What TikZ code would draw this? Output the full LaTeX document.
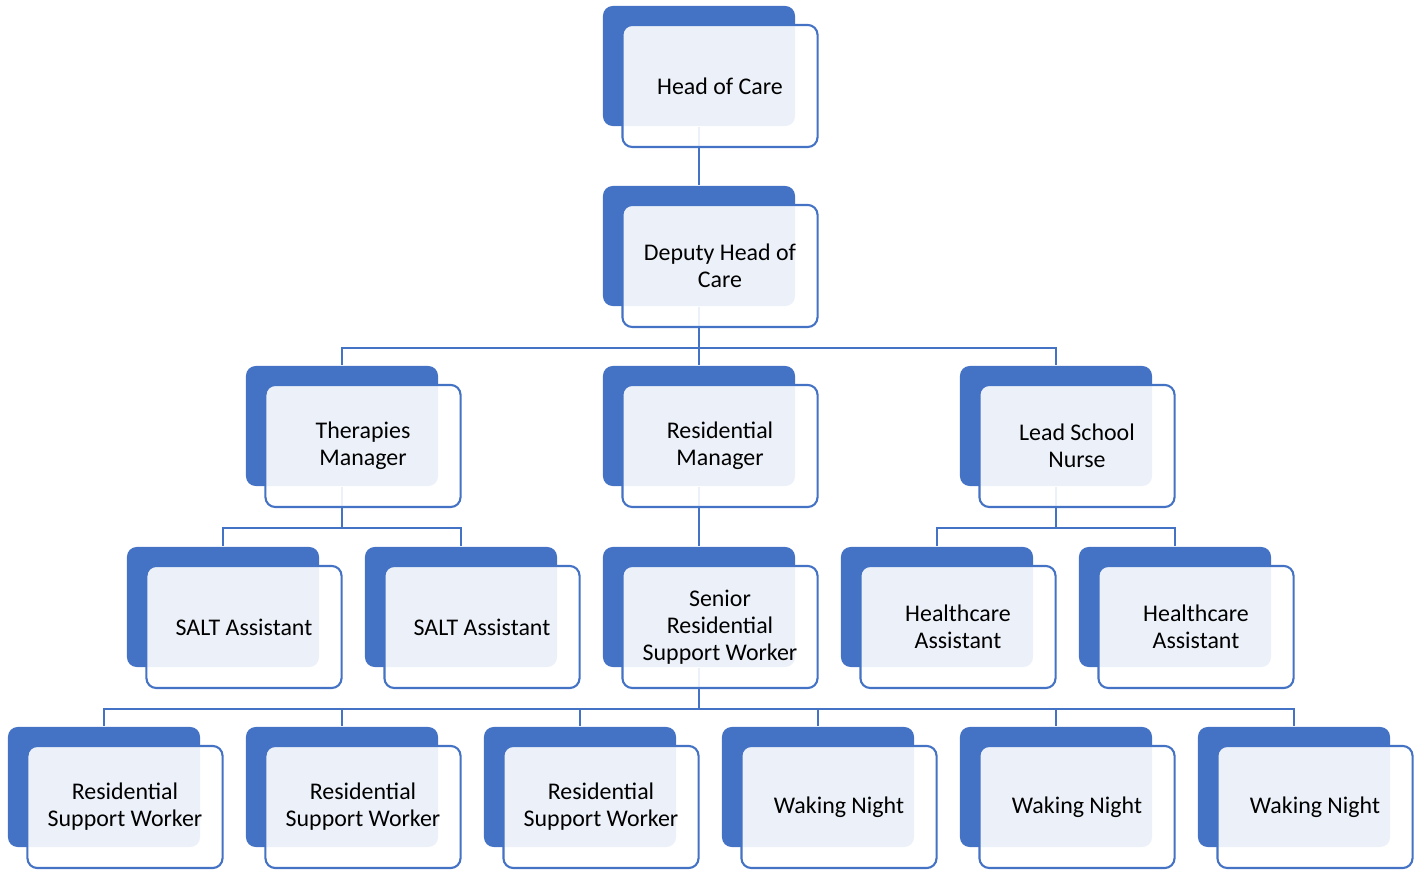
\documentclass[tikz,border=0pt]{standalone}
\usepackage{fontspec}
\setmainfont{Carlito}
\definecolor{cardblue}{HTML}{4472C4}

\begin{document}
\begin{tikzpicture}
      [%%%%%%%%%%%%%%%%%%%%%%%%%%%%%%
      x=0.01cm, y=-0.01cm,
      back/.style={rectangle,rounded corners=2.8pt,fill=cardblue,inner sep=0pt,
                   minimum width=1.92cm, minimum height=1.20cm},
      front/.style={rectangle,rounded corners=2.8pt,draw=cardblue,line width=0.6pt,
                    fill=white,fill opacity=0.9,text opacity=1,inner sep=0pt,
                    minimum width=1.95cm, minimum height=1.22cm,align=center,
                    font=\fontsize{6.8}{7.7}\selectfont},
      link/.style={draw=cardblue,line width=0.7pt},
      ]%%%%%%%%%%%%%%%%%%%%%%%%%%%%%%
      \useasboundingbox (0,0) rectangle (1420,870);

      % back cards
      \node[back] (head) at (699,66){};
      \node[back] (deputy) at (699,246){};
      \node[back] (ther) at (342,426){};
      \node[back] (resm) at (699,426){};
      \node[back] (nurse) at (1056,426){};
      \node[back] (salta) at (223,607){};
      \node[back] (saltb) at (461,607){};
      \node[back] (senior) at (699,607){};
      \node[back] (hca) at (937,607){};
      \node[back] (hcb) at (1175,607){};
      \node[back] (rswa) at (104,787){};
      \node[back] (rswb) at (342,787){};
      \node[back] (rswc) at (580,787){};
      \node[back] (wna) at (818,787){};
      \node[back] (wnb) at (1056,787){};
      \node[back] (wnc) at (1294,787){};

      % links
      \draw[link] (head.south) -- (deputy.north);
      \draw[link] (deputy.south) -- ++(0,41) -| (ther.north);
      \draw[link] (deputy.south) -- (resm.north);
      \draw[link] (deputy.south) -- ++(0,41) -| (nurse.north);
      \draw[link] (ther.south) -- ++(0,41) -| (salta.north);
      \draw[link] (ther.south) -- ++(0,41) -| (saltb.north);
      \draw[link] (resm.south) -- (senior.north);
      \draw[link] (nurse.south) -- ++(0,41) -| (hca.north);
      \draw[link] (nurse.south) -- ++(0,41) -| (hcb.north);
      \draw[link] (senior.south) -- ++(0,41) -| (rswa.north);
      \draw[link] (senior.south) -- ++(0,41) -| (rswb.north);
      \draw[link] (senior.south) -- ++(0,41) -| (rswc.north);
      \draw[link] (senior.south) -- ++(0,41) -| (wna.north);
      \draw[link] (senior.south) -- ++(0,41) -| (wnb.north);
      \draw[link] (senior.south) -- ++(0,41) -| (wnc.north);

      % front cards
      \node[front] (headT) at (699+21,66+20){Head of Care};
      \node[front] (deputyT) at (699+21,246+20){Deputy Head of\\Care};
      \node[front] (therT) at (342+21,426+20){Therapies\\Manager};
      \node[front] (resmT) at (699+21,426+20){Residential\\Manager};
      \node[front] (nurseT) at (1056+21,426+20){Lead School\\Nurse};
      \node[front] (saltaT) at (223+21,607+20){SALT Assistant};
      \node[front] (saltbT) at (461+21,607+20){SALT Assistant};
      \node[front] (seniorT) at (699+21,607+20){Senior\\Residential\\Support Worker};
      \node[front] (hcaT) at (937+21,607+20){Healthcare\\Assistant};
      \node[front] (hcbT) at (1175+21,607+20){Healthcare\\Assistant};
      \node[front] (rswaT) at (104+21,787+20){Residential\\Support Worker};
      \node[front] (rswbT) at (342+21,787+20){Residential\\Support Worker};
      \node[front] (rswcT) at (580+21,787+20){Residential\\Support Worker};
      \node[front] (wnaT) at (818+21,787+20){Waking Night};
      \node[front] (wnbT) at (1056+21,787+20){Waking Night};
      \node[front] (wncT) at (1294+21,787+20){Waking Night};
\end{tikzpicture}
\end{document}
